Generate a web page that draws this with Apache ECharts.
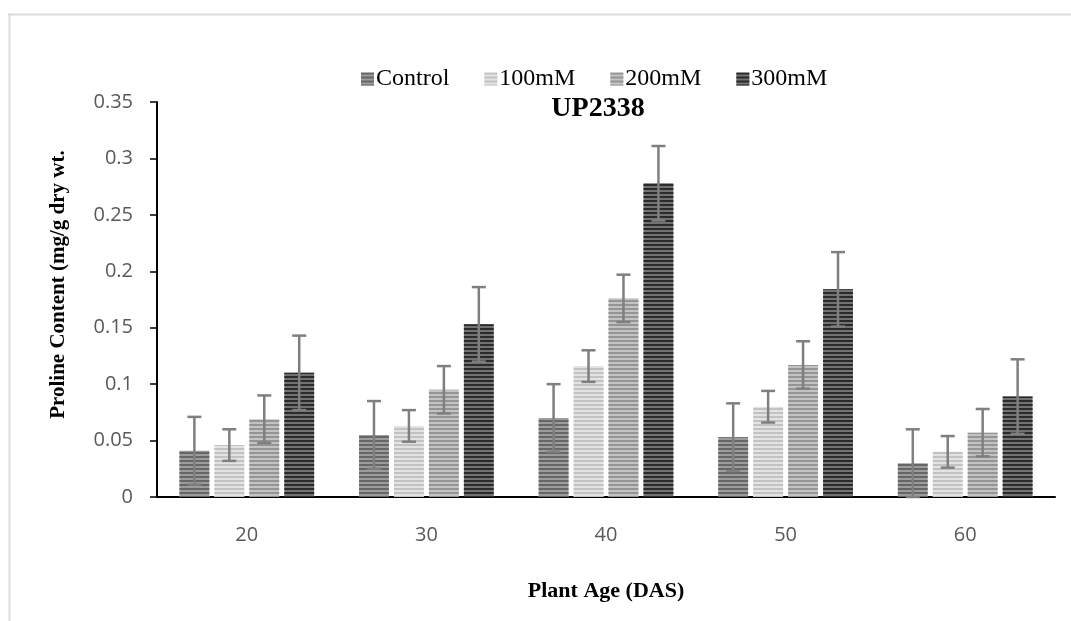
<!DOCTYPE html>
<html>
<head>
<meta charset="utf-8">
<script src="https://cdn.jsdelivr.net/npm/echarts@6/dist/echarts.min.js"></script>
<style>
  html, body { margin: 0; padding: 0; background: #fff; }
  #chart { width: 1071px; height: 621px; }
</style>
</head>
<body>
<div id="chart"></div>
<script>
// values
const ages = ['20', '30', '40', '50', '60'];
const seriesNames = ['Control', '100mM', '200mM', '300mM'];
const control = [0.041, 0.055, 0.070, 0.053, 0.030];
const mM100 = [0.046, 0.063, 0.116, 0.080, 0.040];
const mM200 = [0.069, 0.095, 0.176, 0.117, 0.057];
const mM300 = [0.110, 0.153, 0.278, 0.184, 0.089];
const errControl = [0.030, 0.030, 0.030, 0.030, 0.030];
const err100 = [0.014, 0.014, 0.014, 0.014, 0.014];
const err200 = [0.021, 0.021, 0.021, 0.021, 0.021];
const err300 = [0.033, 0.033, 0.033, 0.033, 0.033];

const means = [control, mM100, mM200, mM300];
const errs = [errControl, err100, err200, err300];
const baseColors = ['#9c9c9c', '#e3e3e3', '#c3c3c3', '#727272'];
const stripeColors = ['#666666', '#c2c2c2', '#949494', '#2b2b2b'];

const catGap = 0.25;
const barGap = 0.17;

const chart = echarts.init(document.getElementById('chart'));

const bars = means.map((vals, k) => ({
  name: seriesNames[k],
  type: 'bar',
  data: vals,
  barCategoryGap: '25%',
  barGap: '17%',
  itemStyle: {
    color: baseColors[k],
    decal: {
      symbol: 'rect',
      symbolSize: 1,
      dashArrayX: [1, 0],
      dashArrayY: [2, 2],
      color: stripeColors[k]
    }
  }
}));

// error bars drawn at each bar's centre
const errorBars = means.map((vals, k) => ({
  name: seriesNames[k],
  type: 'custom',
  z: 5,
  data: vals.map((v, i) => [i, v - errs[k][i], v + errs[k][i]]),
  renderItem: function (params, api) {
    const band = api.size([1, 0])[0];
    const w = band * (1 - catGap) / (4 + 3 * barGap);
    const x = api.coord([api.value(0), 0])[0] + (k - 1.5) * w * (1 + barGap);
    const lo = api.coord([api.value(0), api.value(1)])[1];
    const hi = api.coord([api.value(0), api.value(2)])[1];
    const cap = 7;
    const style = { stroke: '#7f7f7f', lineWidth: 2.5 };
    return {
      type: 'group',
      children: [
        { type: 'line', shape: { x1: x, y1: lo, x2: x, y2: hi }, style: style },
        { type: 'line', shape: { x1: x - cap, y1: hi, x2: x + cap, y2: hi }, style: style },
        { type: 'line', shape: { x1: x - cap, y1: lo, x2: x + cap, y2: lo }, style: style }
      ]
    };
  }
}));

chart.setOption({
  animation: false,
  backgroundColor: '#fff',
  title: {
    text: 'UP2338',
    left: 593,
    textAlign: 'center',
    top: 90,
    textStyle: { fontFamily: 'Liberation Serif', fontWeight: 'bold', fontSize: 28, color: '#000' }
  },
  legend: {
    data: seriesNames,
    left: 356,
    top: 62,
    itemWidth: 13,
    itemHeight: 13,
    itemGap: 35,
    icon: 'rect',
    textStyle: { fontFamily: 'Liberation Serif', fontSize: 24, color: '#000', padding: [0, 0, 0, -3] }
  },
  graphic: [
    { type: 'line', shape: { x1: 8, y1: 14.5, x2: 1071, y2: 14.5 }, style: { stroke: '#dcdcdc', lineWidth: 2 } },
    { type: 'line', shape: { x1: 9.5, y1: 14, x2: 9.5, y2: 621 }, style: { stroke: '#dcdcdc', lineWidth: 2 } }
  ],
  grid: { left: 157, right: 16, top: 102, bottom: 124 },
  xAxis: {
    type: 'category',
    data: ages,
    name: 'Plant Age (DAS)',
    nameLocation: 'middle',
    nameGap: 83,
    nameTextStyle: { fontFamily: 'Liberation Serif', fontWeight: 'bold', fontSize: 22, color: '#000' },
    axisLine: { lineStyle: { color: '#000', width: 2 } },
    axisTick: { show: false },
    axisLabel: { margin: 28, fontFamily: 'Open Sans', fontSize: 20, color: '#595959' }
  },
  yAxis: {
    type: 'value',
    min: 0,
    max: 0.35,
    interval: 0.05,
    name: 'Proline Content (mg/g dry wt.',
    nameLocation: 'middle',
    nameGap: 88,
    nameTextStyle: { fontFamily: 'Liberation Serif', fontWeight: 'bold', fontSize: 21, color: '#000', padding: [0, 0, 0, 30] },
    axisLine: { show: true, lineStyle: { color: '#000', width: 2 } },
    axisTick: { show: true, length: 7, lineStyle: { color: '#000', width: 1.5 } },
    splitLine: { show: false },
    axisLabel: { margin: 24, fontFamily: 'Open Sans', fontSize: 20, color: '#595959' }
  },
  series: bars.concat(errorBars)
});
</script>
</body>
</html>
